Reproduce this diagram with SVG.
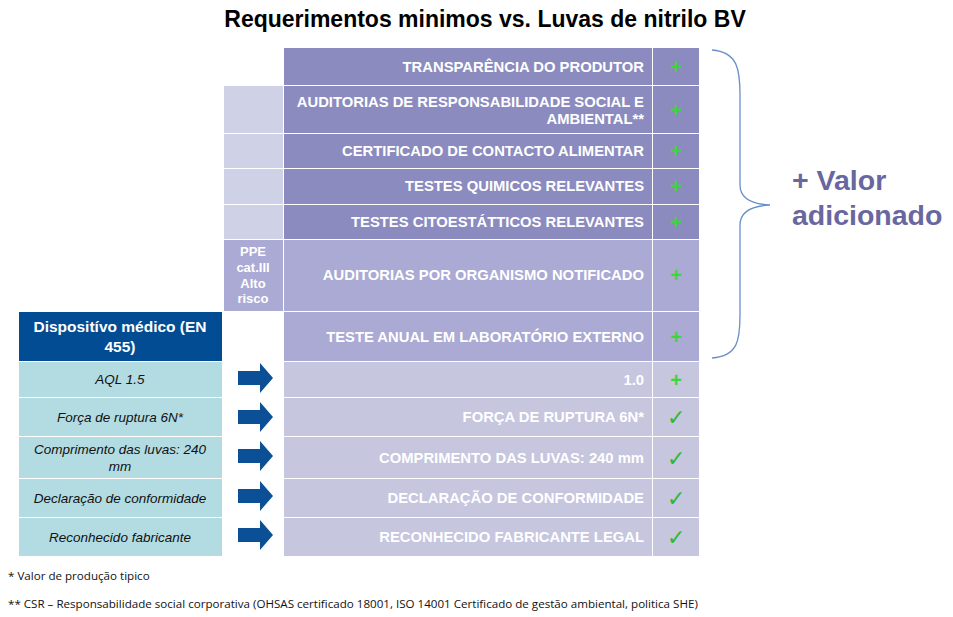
<svg xmlns="http://www.w3.org/2000/svg" width="953" height="617" viewBox="0 0 953 617">
<style>
text{font-family:"Liberation Sans",Arial,sans-serif}
.d{fill:#8b8bbf}.m{fill:#aaaad4}.l{fill:#c6c6df}.s{fill:#cfd2e6}.t{fill:#b3dbe2}
.w{fill:#fff;font-weight:bold;font-size:14.8px;text-anchor:end}
.p{fill:#3ed43e;font-weight:bold;font-size:20px;text-anchor:middle}
.c{fill:#2fb82f;font-size:22px;text-anchor:middle}
.i{fill:#111;font-style:italic;font-size:13.5px;text-anchor:middle}
.f{fill:#111;font-size:11.6px;font-family:"Open Sans",sans-serif}
</style>
<defs><path id="ar" d="M0,-7H22V-15L35,0L22,15V7H0Z" fill="#0b4f96"/></defs>
<rect width="953" height="617" fill="#fff"/>
<text x="485" y="27" text-anchor="middle" font-size="23" font-weight="bold" fill="#000">Requerimentos minimos vs. Luvas de nitrilo BV</text>
<g id="rows">
<rect class="d" x="284" y="48" width="368" height="37"/><rect class="d" x="653" y="48" width="46" height="37"/>
<rect class="d" x="284" y="86" width="368" height="47"/><rect class="d" x="653" y="86" width="46" height="47"/>
<rect class="d" x="284" y="134" width="368" height="34"/><rect class="d" x="653" y="134" width="46" height="34"/>
<rect class="d" x="284" y="169" width="368" height="35"/><rect class="d" x="653" y="169" width="46" height="35"/>
<rect class="d" x="284" y="205" width="368" height="34"/><rect class="d" x="653" y="205" width="46" height="34"/>
<rect class="m" x="284" y="240" width="368" height="71"/><rect class="m" x="653" y="240" width="46" height="71"/>
<rect class="m" x="284" y="312" width="368" height="49"/><rect class="m" x="653" y="312" width="46" height="49"/>
<rect class="l" x="284" y="362" width="368" height="35"/><rect class="l" x="653" y="362" width="46" height="35"/>
<rect class="l" x="284" y="398" width="368" height="38"/><rect class="l" x="653" y="398" width="46" height="38"/>
<rect class="l" x="284" y="437" width="368" height="41"/><rect class="l" x="653" y="437" width="46" height="41"/>
<rect class="l" x="284" y="479" width="368" height="38"/><rect class="l" x="653" y="479" width="46" height="38"/>
<rect class="l" x="284" y="518" width="368" height="38"/><rect class="l" x="653" y="518" width="46" height="38"/>
<rect class="s" x="224" y="86" width="59" height="47"/><rect class="s" x="224" y="134" width="59" height="34"/>
<rect class="s" x="224" y="169" width="59" height="35"/><rect class="s" x="224" y="205" width="59" height="34"/>
<rect class="m" x="224" y="240" width="59" height="71"/>
<text class="w" x="644" y="72">TRANSPARÊNCIA DO PRODUTOR</text>
<text class="w" x="644" y="107">AUDITORIAS DE RESPONSABILIDADE SOCIAL E</text>
<text class="w" x="644" y="124">AMBIENTAL**</text>
<text class="w" x="644" y="156">CERTIFICADO DE CONTACTO ALIMENTAR</text>
<text class="w" x="644" y="191">TESTES QUIMICOS RELEVANTES</text>
<text class="w" x="644" y="227">TESTES CITOESTÁTTICOS RELEVANTES</text>
<text class="w" x="644" y="280">AUDITORIAS POR ORGANISMO NOTIFICADO</text>
<text class="w" x="644" y="342">TESTE ANUAL EM LABORATÓRIO EXTERNO</text>
<text class="w" x="644" y="385">1.0</text>
<text class="w" x="644" y="422">FORÇA DE RUPTURA 6N*</text>
<text class="w" x="644" y="463">COMPRIMENTO DAS LUVAS: 240 mm</text>
<text class="w" x="644" y="503">DECLARAÇÃO DE CONFORMIDADE</text>
<text class="w" x="644" y="542">RECONHECIDO FABRICANTE LEGAL</text>
<g font-size="13" font-weight="bold" fill="#fff" text-anchor="middle"><text x="253" y="256">PPE</text><text x="253" y="272">cat.III</text><text x="253" y="288">Alto</text><text x="253" y="303">risco</text></g>
<text class="p" x="676" y="74">+</text><text class="p" x="676" y="117">+</text><text class="p" x="676" y="158">+</text>
<text class="p" x="676" y="193">+</text><text class="p" x="676" y="229">+</text><text class="p" x="676" y="282">+</text>
<text class="p" x="676" y="344">+</text><text class="p" x="676" y="387">+</text>
<text class="c" x="676" y="425">✓</text><text class="c" x="676" y="466">✓</text><text class="c" x="676" y="506">✓</text><text class="c" x="676" y="545">✓</text>
</g>
<g id="left">
<rect x="19" y="312" width="203" height="49" fill="#024c93"/>
<text x="120" y="332" text-anchor="middle" fill="#fff" font-weight="bold" font-size="15.5">Dispositívo médico (EN</text>
<text x="120" y="352" text-anchor="middle" fill="#fff" font-weight="bold" font-size="15.5">455)</text>
<rect class="t" x="19" y="362" width="203" height="35"/><rect class="t" x="19" y="398" width="203" height="38"/>
<rect class="t" x="19" y="437" width="203" height="41"/><rect class="t" x="19" y="479" width="203" height="38"/>
<rect class="t" x="19" y="518" width="203" height="38"/>
<text class="i" x="120" y="384">AQL 1.5</text>
<text class="i" x="120" y="422">Força de ruptura 6N*</text>
<text class="i" x="120" y="454">Comprimento das luvas: 240</text>
<text class="i" x="120" y="471">mm</text>
<text class="i" x="120" y="503">Declaração de conformidade</text>
<text class="i" x="120" y="542">Reconhecido fabricante</text>
</g>
<g id="connectors">
<use href="#ar" x="238" y="378"/><use href="#ar" x="238" y="417"/><use href="#ar" x="238" y="456"/>
<use href="#ar" x="238" y="496"/><use href="#ar" x="238" y="535"/>
<path d="M712,50C738,52 740,70 740,95V185C740,198 750,204 770,205C750,206 740,212 740,225V315C740,340 738,356 712,358" fill="none" stroke="#6a8fc8" stroke-width="1.3"/>
</g>
<g font-weight="bold" font-size="28.5" fill="#68679f"><text x="792" y="190">+ Valor</text><text x="792" y="225">adicionado</text></g>
<text class="f" x="8" y="580">* Valor de produção tipico</text>
<text class="f" x="8" y="608">** CSR – Responsabilidade social corporativa (OHSAS certificado 18001, ISO 14001 Certificado de gestão ambiental, politica SHE)</text>
</svg>
